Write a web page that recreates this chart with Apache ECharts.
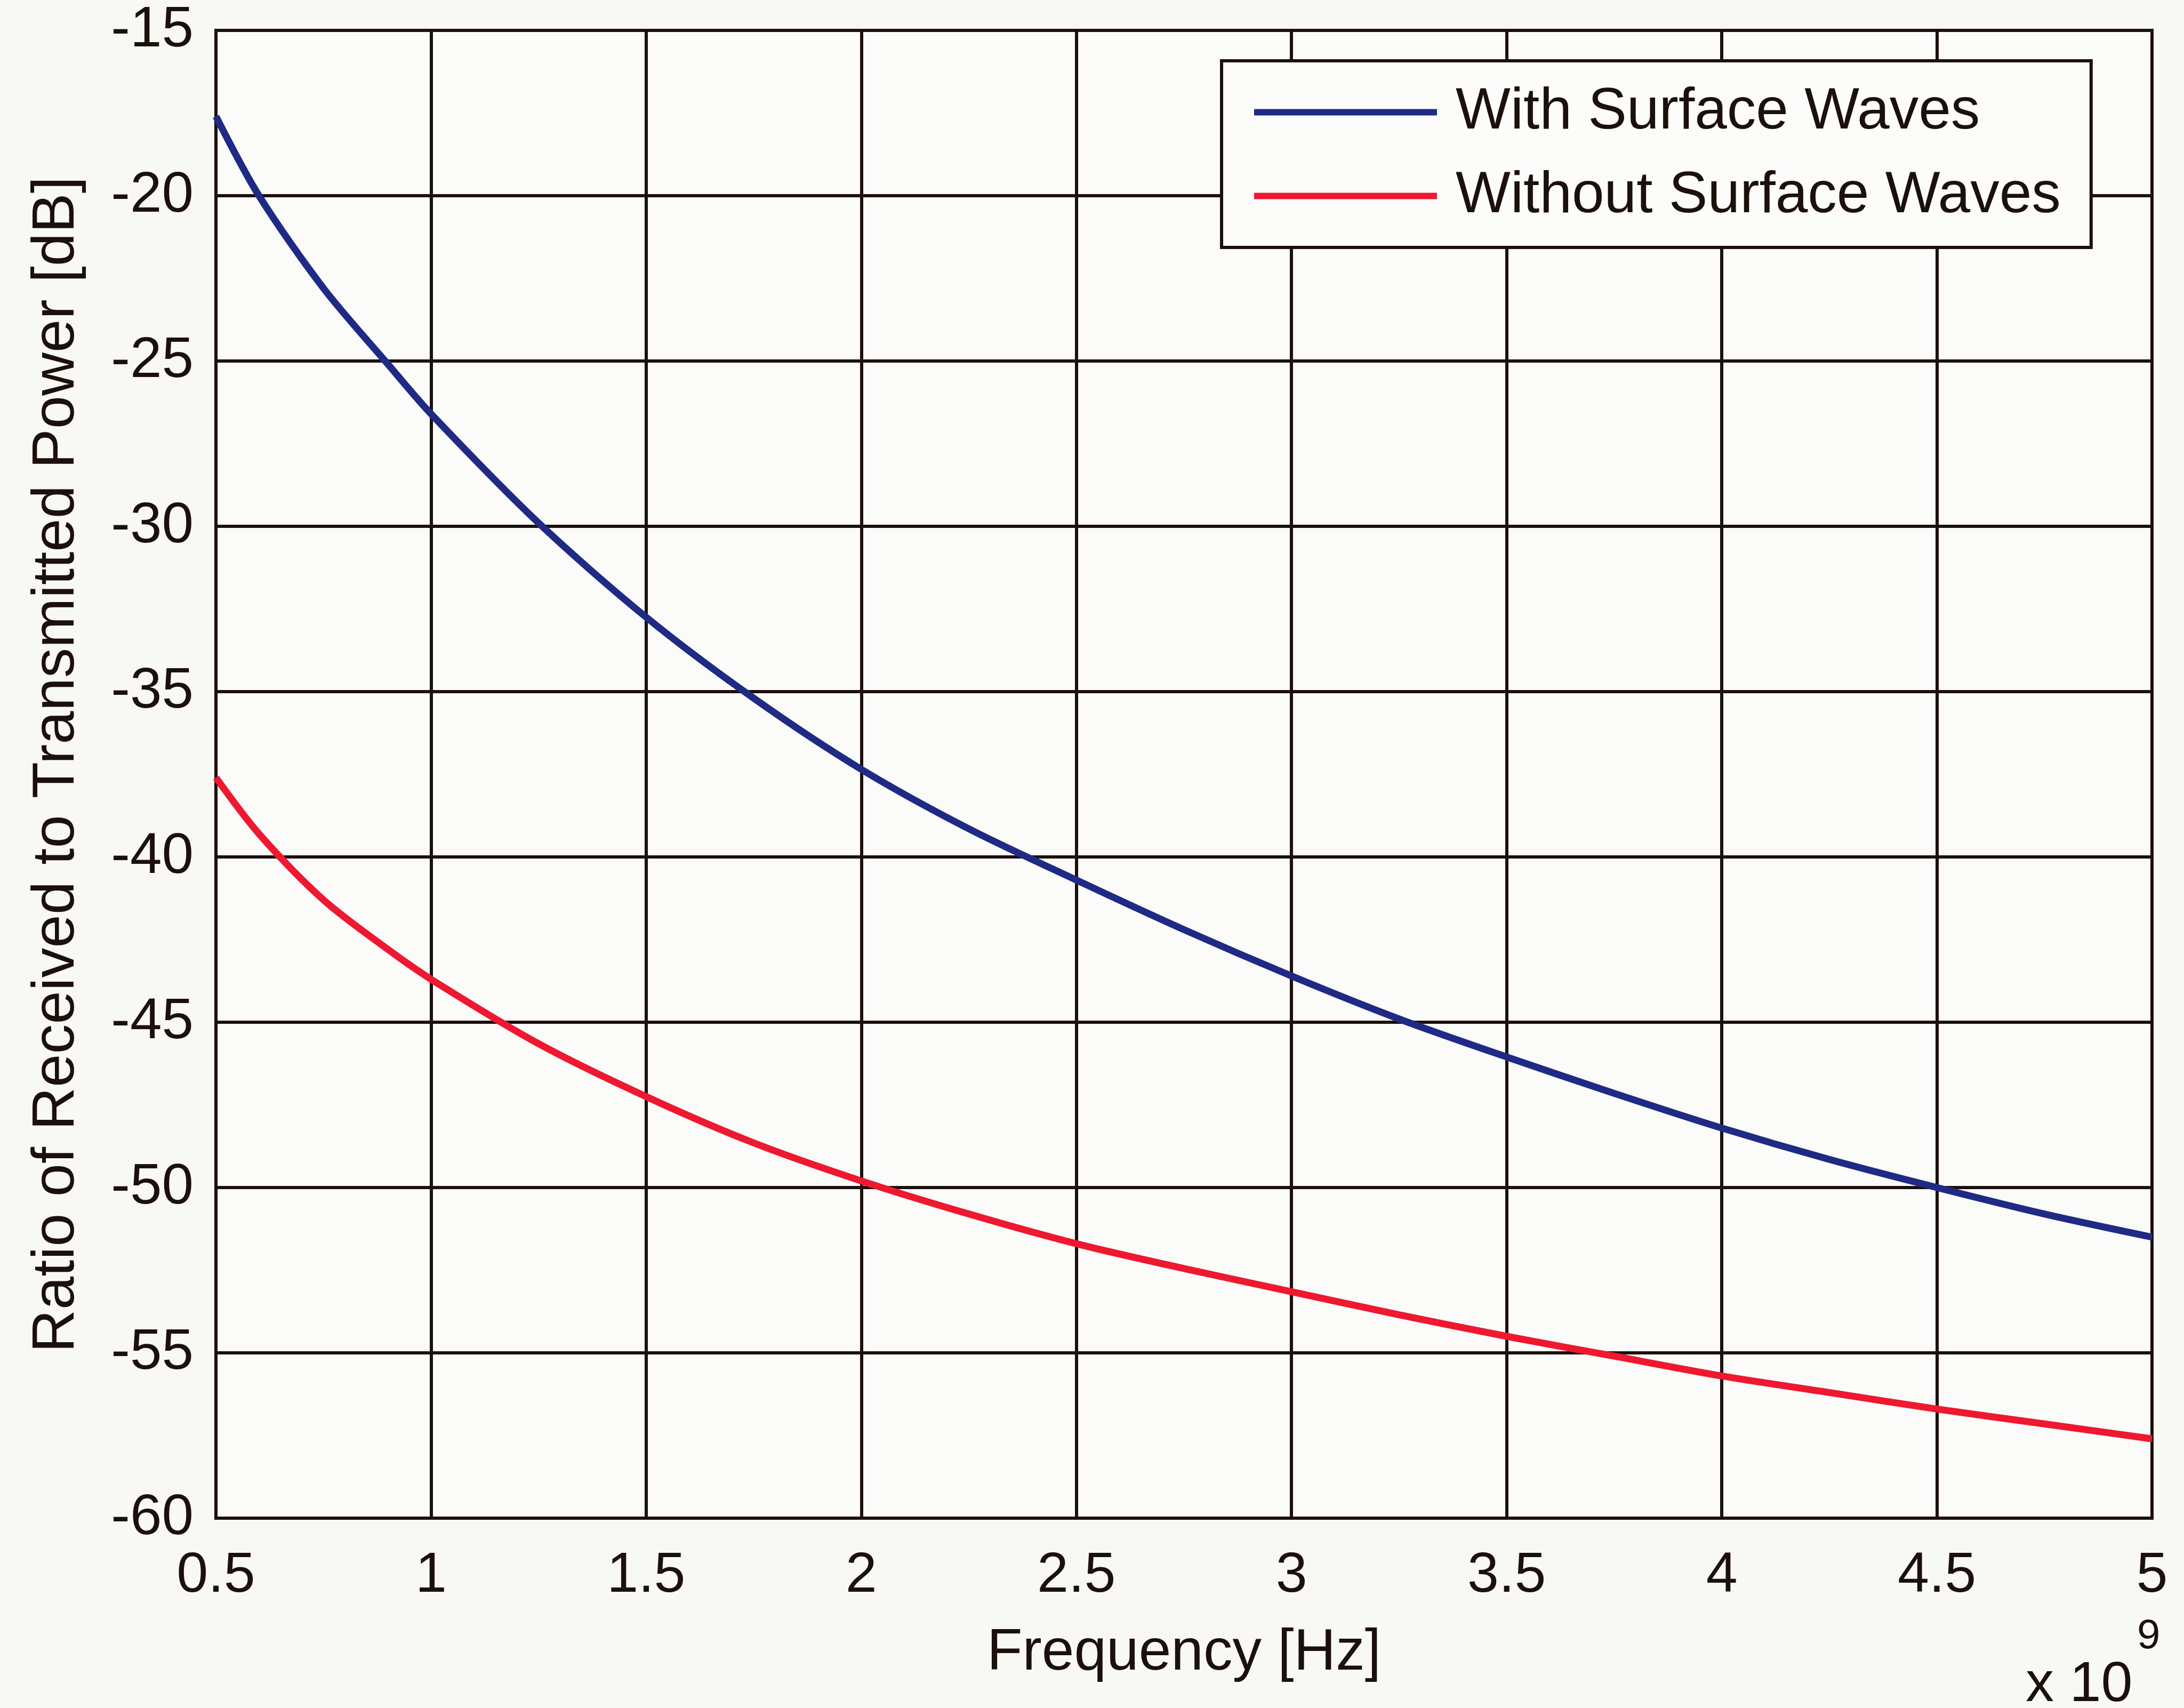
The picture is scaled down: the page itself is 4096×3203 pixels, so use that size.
<!DOCTYPE html>
<html>
<head>
<meta charset="utf-8">
<script src="https://cdn.jsdelivr.net/npm/echarts@6/dist/echarts.min.js"></script>
<style>
html,body{margin:0;padding:0;background:#f8f8f4;}
#chart{width:4096px;height:3203px;}
</style>
</head>
<body>
<div id="chart"></div>
<script>
// Frequency in units of 1e9 Hz
const freq = [0.5, 0.6, 0.75, 0.9, 1.0, 1.25, 1.5, 1.75, 2.0, 2.25, 2.5, 2.75, 3.0, 3.25, 3.5, 3.75, 4.0, 4.25, 4.5, 4.75, 5.0];
const withSurface = [-17.6, -20.0, -22.8, -25.1, -26.6, -29.9, -32.75, -35.2, -37.35, -39.15, -40.7, -42.2, -43.6, -44.9, -46.05, -47.15, -48.2, -49.15, -50.0, -50.8, -51.5];
const withoutSurface = [-37.6, -39.3, -41.3, -42.8, -43.7, -45.65, -47.25, -48.65, -49.8, -50.8, -51.7, -52.45, -53.15, -53.85, -54.5, -55.1, -55.7, -56.2, -56.7, -57.15, -57.6];
const seriesNames = ['With Surface Waves', 'Without Surface Waves'];
const xTicks = [0.5, 1, 1.5, 2, 2.5, 3, 3.5, 4, 4.5, 5];
const yTicks = [-60, -55, -50, -45, -40, -35, -30, -25, -20, -15];
const xName = 'Frequency [Hz]';
const yName = 'Ratio of Received to Transmitted Power [dB]';

const ink = '#1c100c';
const font = 'Liberation Sans, Arial, sans-serif';

const chart = echarts.init(document.getElementById('chart'), null, {renderer: 'canvas'});
chart.setOption({
  backgroundColor: '#f8f8f4',
  animation: false,
  grid: {
    left: 405, right: 60, top: 57, bottom: 356,
    show: true, borderColor: ink, borderWidth: 6, backgroundColor: '#fbfbf9'
  },
  legend: {
    orient: 'vertical',
    left: 2291, top: 114,
    padding: [18, 57, 18, 61],
    itemWidth: 343, itemHeight: 12, itemGap: 0,
    icon: 'rect',
    borderColor: ink, borderWidth: 6,
    backgroundColor: '#fcfcfa',
    textStyle: {fontFamily: font, fontSize: 109, color: ink, lineHeight: 157, padding: [0, 0, 0, 30]},
    data: seriesNames
  },
  xAxis: {
    type: 'value', min: xTicks[0], max: xTicks[xTicks.length - 1], interval: 0.5,
    name: xName, nameLocation: 'middle', nameGap: 199,
    nameTextStyle: {fontFamily: font, fontSize: 109, color: ink},
    axisLine: {show: true, lineStyle: {color: ink, width: 6}},
    axisTick: {show: true, inside: true, length: 18, lineStyle: {color: ink, width: 6}},
    axisLabel: {fontFamily: font, fontSize: 106, color: ink, margin: 56},
    splitLine: {show: true, lineStyle: {color: ink, width: 6}}
  },
  yAxis: {
    type: 'value', min: yTicks[0], max: yTicks[yTicks.length - 1], interval: 5,
    name: yName, nameLocation: 'middle', nameGap: 242, nameRotate: 90,
    nameTextStyle: {fontFamily: font, fontSize: 112, color: ink, padding: [0, 0, 0, 36]},
    axisLine: {show: true, lineStyle: {color: ink, width: 6}},
    axisTick: {show: true, inside: true, length: 18, lineStyle: {color: ink, width: 6}},
    axisLabel: {fontFamily: font, fontSize: 107, color: ink, margin: 42},
    splitLine: {show: true, lineStyle: {color: ink, width: 6}}
  },
  series: [
    {
      name: seriesNames[0], type: 'line', showSymbol: false, symbol: 'none', smooth: 0.3,
      lineStyle: {color: '#1f2a85', width: 13}, itemStyle: {color: '#1f2a85'},
      data: freq.map((f, i) => [f, withSurface[i]]), z: 3
    },
    {
      name: seriesNames[1], type: 'line', showSymbol: false, symbol: 'none', smooth: 0.3,
      lineStyle: {color: '#ee1830', width: 13}, itemStyle: {color: '#ee1830'},
      data: freq.map((f, i) => [f, withoutSurface[i]]), z: 3
    }
  ],
  graphic: [
    {type: 'text', left: 3799, top: 3108, style: {text: 'x 10', font: '106px ' + font, fill: ink}},
    {type: 'text', left: 4008, top: 3030, style: {text: '9', font: '78px ' + font, fill: ink}}
  ]
});
</script>
</body>
</html>
